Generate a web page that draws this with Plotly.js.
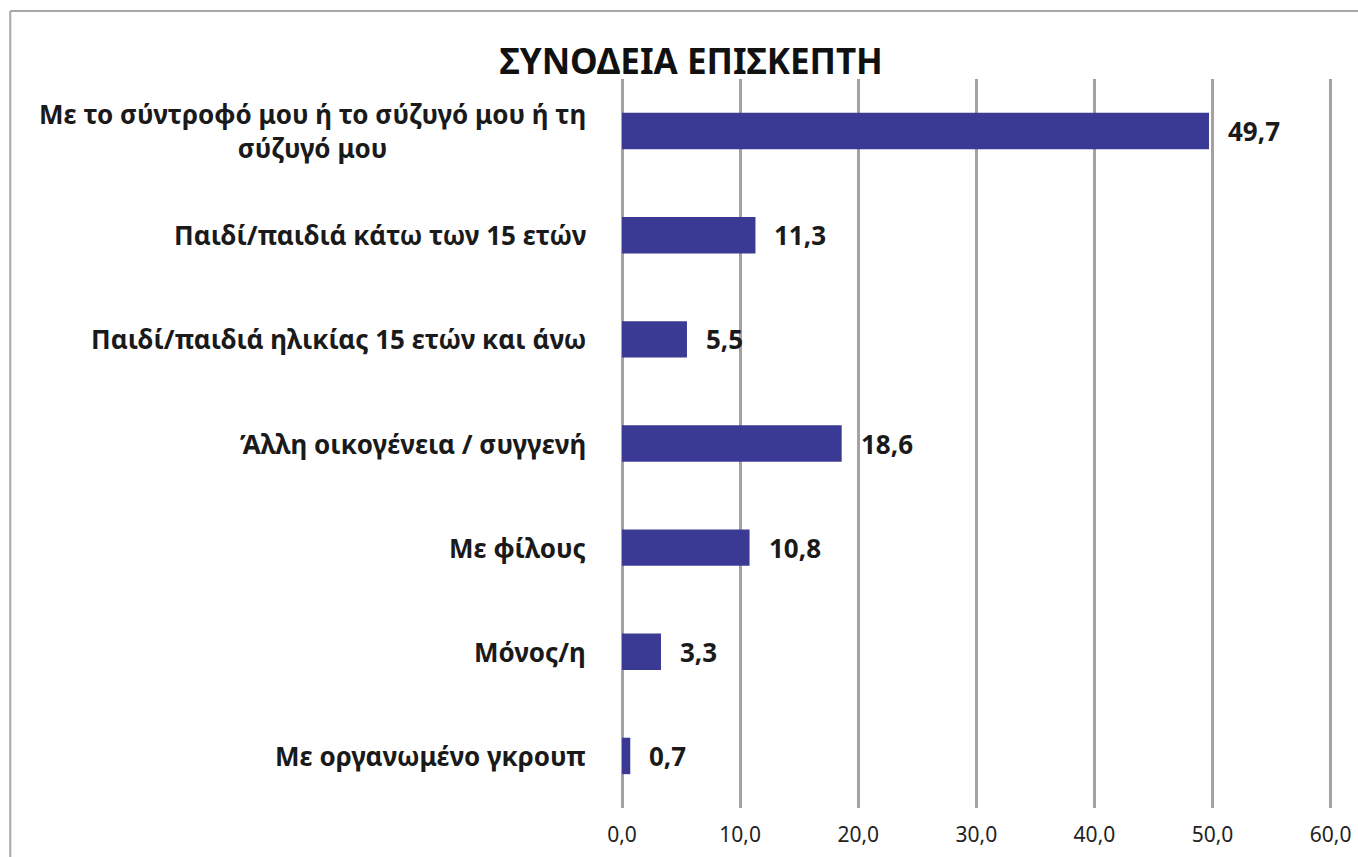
<!DOCTYPE html>
<html>
<head>
<meta charset="utf-8">
<script src="https://cdn.plot.ly/plotly-3.0.1.min.js"></script>
<style>
  body { margin: 0; background: #fff; }
  #plot { width: 1358px; height: 857px; }
</style>
</head>
<body>
<div id="plot"></div>
<script>
var categories = [
  'Με το σύντροφό μου ή το σύζυγό μου ή τη<br>σύζυγό μου',
  'Παιδί/παιδιά κάτω των 15 ετών',
  'Παιδί/παιδιά ηλικίας 15 ετών και άνω',
  'Άλλη οικογένεια / συγγενή',
  'Με φίλους',
  'Μόνος/η',
  'Με οργανωμένο γκρουπ'
];
var values = [49.7, 11.3, 5.5, 18.6, 10.8, 3.3, 0.7];
var valueLabels = ['49,7', '11,3', '5,5', '18,6', '10,8', '3,3', '0,7'];

var labelFont = { family: 'Noto Sans, sans-serif', size: 26, color: '#1a1a1a', weight: 700 };

var trace = {
  type: 'bar',
  orientation: 'h',
  x: values,
  y: categories,
  marker: { color: '#3a3a94' },
  hoverinfo: 'none'
};

var annotations = [];
// category labels on the left
categories.forEach(function (c) {
  annotations.push({
    x: -0.048, xref: 'paper', y: c, yref: 'y',
    text: c, showarrow: false, xanchor: 'right', yanchor: 'middle',
    align: 'center', font: labelFont
  });
});
// value labels at bar ends
values.forEach(function (v, i) {
  annotations.push({
    x: v, xref: 'x', y: categories[i], yref: 'y',
    text: valueLabels[i], showarrow: false, xanchor: 'left', yanchor: 'middle',
    xshift: 17, font: labelFont
  });
});

var layout = {
  width: 1358,
  height: 857,
  margin: { l: 622, r: 25, t: 79, b: 49 },
  paper_bgcolor: '#fff',
  plot_bgcolor: '#fff',
  separators: ',.',
  showlegend: false,
  bargap: 0.65,
  title: {
    text: 'ΣΥΝΟΔΕΙΑ ΕΠΙΣΚΕΠΤΗ',
    font: { family: 'Noto Sans, sans-serif', size: 35, color: '#111', weight: 700 },
    x: 0.509, xanchor: 'center', y: 0.928, yanchor: 'middle'
  },
  xaxis: {
    range: [0, 60.2],
    tickvals: [0, 10, 20, 30, 40, 50, 60],
    tickformat: '.1f',
    showgrid: true,
    gridcolor: '#a9a1a1',
    gridwidth: 3,
    zeroline: true,
    zerolinecolor: '#a9a1a1',
    zerolinewidth: 3,
    showline: false,
    ticks: '',
    ticklen: 0,
    ticklabelstandoff: 12,
    tickfont: { family: 'Noto Sans, sans-serif', size: 21, color: '#222' }
  },
  yaxis: {
    type: 'category',
    autorange: 'reversed',
    showticklabels: false,
    showgrid: false,
    zeroline: false,
    showline: false,
    ticks: ''
  },
  annotations: annotations,
  shapes: [
    { type: 'line', xref: 'paper', yref: 'paper', x0: -0.8604, x1: -0.8604, y0: -0.07, y1: 1.0933,
      line: { color: '#a8a8a8', width: 2 } },
    { type: 'line', xref: 'paper', yref: 'paper', x0: -0.8604, x1: 1.04, y0: 1.0933, y1: 1.0933,
      line: { color: '#a8a8a8', width: 2 } }
  ]
};

Plotly.newPlot('plot', [trace], layout, { displayModeBar: false, staticPlot: true });
</script>
</body>
</html>
